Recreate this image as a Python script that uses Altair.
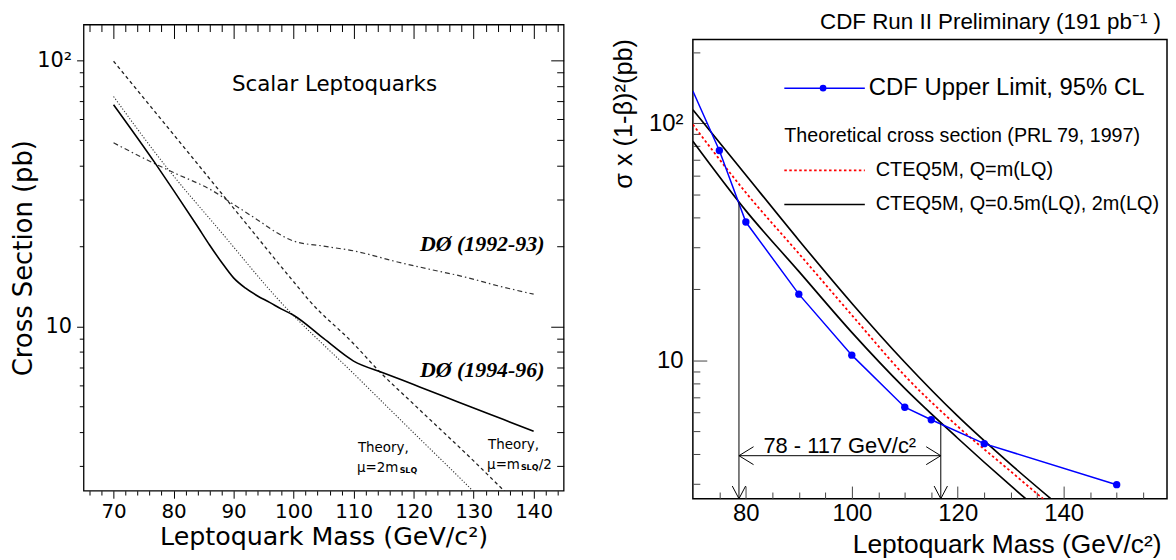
import altair as alt
import pandas as pd

# ---------------- Left panel: D0 scalar leptoquark cross sections ----------------
L_do9396_mass = [70, 76.9, 80, 84, 86, 88, 90, 92, 94, 96, 98, 100, 105, 110, 115, 120, 125, 130, 135, 140]
L_do9396_xs = [68, 41.1, 32.4, 23.7, 20.2, 17.4, 15.2, 13.9, 13.0, 12.3, 11.6, 11.0, 9.0, 7.4, 6.68, 6.04, 5.46, 4.93, 4.46, 4.03]

L_do9293_mass = [70, 76.6, 80, 86.6, 90, 94, 97.6, 100, 105, 110, 117.5, 122, 128.6, 134, 140]
L_do9293_xs = [48.9, 41.1, 37.8, 32.2, 28.7, 25.1, 22.2, 20.9, 20.0, 19.2, 17.4, 16.5, 15.3, 14.2, 13.2]

L_half_mass = [70, 80, 90, 100, 102.6, 110, 114.2, 120, 130, 135, 137]
L_half_xs = [99, 52.5, 27.8, 14.7, 12.5, 8.6, 6.8, 5.1, 3.12, 2.42, 2.19]

L_two_mass = [70, 78.9, 87.7, 97.6, 110, 120, 130, 132]
L_two_xs = [73, 39.4, 22.9, 12.5, 6.64, 3.98, 2.39, 2.15]

L_XMAJOR = [70, 80, 90, 100, 110, 120, 130, 140]
L_XMINOR = [66, 68, 72, 74, 76, 78, 82, 84, 86, 88, 92, 94, 96, 98, 102, 104, 106, 108,
            112, 114, 116, 118, 122, 124, 126, 128, 132, 134, 136, 138, 142, 144]
L_YMAJOR = [10, 100]
L_YMINOR = [3, 4, 5, 6, 7, 8, 9, 20, 30, 40, 50, 60, 70, 80, 90]

# ---------------- Right panel: CDF Run II ----------------
R_cdf_mass = [70, 75, 80, 90, 100, 110, 115, 125, 150]
R_cdf_limit = [137, 76.8, 38.3, 19.0, 10.5, 6.33, 5.6, 4.44, 2.98]

R_th_mass = [70, 80, 90, 100, 110, 120, 130, 140]
R_th_central = [98.8, 51, 28.2, 15.5, 8.6, 5.25, 3.39, 2.19]
R_th_high = [114.2, 60.5, 32.1, 17.4, 9.8, 5.8, 3.63, 2.34]
R_th_low = [84, 42.8, 23.7, 13.1, 7.6, 4.68, 2.95, 1.9]

R_excl = [78.7, 116.8]          # excluded mass range ends
R_excl_top = [46.5, 5.47]       # where the vertical arrows start
R_arrow_y = 3.95                # height of horizontal arrow

R_XMAJOR = [80, 100, 120, 140]
R_XMINOR = [75, 85, 90, 95, 105, 110, 115, 125, 130, 135, 145, 150, 155]
R_YMAJOR = [10, 100]
R_YMINOR = [3, 4, 5, 6, 7, 8, 9, 20, 30, 40, 50, 60, 70, 80, 90, 200]

LW, LH = 483, 469
RW, RH = 477, 462
L_XDOM, L_YDOM = [65, 145], [2.41, 136]
R_XDOM, R_YDOM = [70, 159.5], [2.6, 226]

LFONT = "DejaVu Sans"
RFONT = "Liberation Sans"

lx = alt.Scale(domain=L_XDOM, nice=False, zero=False)
ly = alt.Scale(type="log", domain=L_YDOM, nice=False)
rx = alt.Scale(domain=R_XDOM, nice=False, zero=False)
ry = alt.Scale(type="log", domain=R_YDOM, nice=False)


def holder(xs, ys, xax, yax, xv, yv):
    d = pd.DataFrame({"x": [xv], "y": [yv]})
    return alt.Chart(d).mark_point(opacity=0).encode(
        x=alt.X("x:Q", scale=xs, axis=xax),
        y=alt.Y("y:Q", scale=ys, axis=yax),
    )


def ticks_only(orient, values, size, offset=0, color="black"):
    return alt.Axis(orient=orient, values=values, tickSize=size, offset=offset, labels=False,
                    domain=False, grid=False, title=None, tickColor=color, tickWidth=1)


def curve(xs, ys, mass, vals, **kw):
    d = pd.DataFrame({"m": mass, "v": vals})
    return alt.Chart(d).mark_line(clip=True, **kw).encode(
        x=alt.X("m:Q", scale=xs, axis=None),
        y=alt.Y("v:Q", scale=ys, axis=None),
    )


def label(text, x, y, **kw):
    d = pd.DataFrame({"t": [text]})
    return alt.Chart(d).mark_text(**kw).encode(
        x=alt.value(x), y=alt.value(y), text="t:N")


# ---------- left panel ----------
l_ax1 = holder(lx, ly,
               alt.Axis(orient="bottom", values=L_XMAJOR, tickSize=7.5, tickColor="black", domain=False,
                        grid=False, format="d", labelFont=LFONT, labelFontSize=20, labelPadding=3,
                        labelColor="black", title="Leptoquark Mass (GeV/c²)", titleFont=LFONT,
                        titleFontSize=25.5, titleFontWeight="normal", titleColor="black",
                        titleX=LW / 2, titleY=46, titleAlign="center", titleBaseline="middle"),
               alt.Axis(orient="left", values=L_YMAJOR, tickSize=7, tickColor="black", domain=False,
                        grid=False, labelExpr="datum.value >= 100 ? '10²' : '10'", labelFont=LFONT,
                        labelFontSize=21, labelPadding=5, labelColor="black",
                        title="Cross Section (pb)", titleFont=LFONT, titleFontSize=26,
                        titleFontWeight="normal", titleColor="black", titleX=-60, titleY=LH / 2,
                        titleAngle=270, titleAlign="center", titleBaseline="middle"),
               100, 10)
l_ax2 = holder(lx, ly, ticks_only("bottom", L_XMINOR, 4.3), ticks_only("left", L_YMINOR, 4.3), 100, 10)
l_ax3 = holder(lx, ly, ticks_only("top", L_XMAJOR, 14, -14), ticks_only("right", L_YMAJOR, 13, -13), 100, 10)
l_ax4 = holder(lx, ly, ticks_only("top", L_XMINOR, 7, -7), ticks_only("right", L_YMINOR, 7, -7), 100, 10)

l_solid = curve(lx, ly, L_do9396_mass, L_do9396_xs, color="black", strokeWidth=1.6, interpolate="monotone")
l_dashdot = curve(lx, ly, L_do9293_mass, L_do9293_xs, color="#333333", strokeWidth=1.2,
                  strokeDash=[5, 3, 1.5, 3], interpolate="monotone")
l_dashed = curve(lx, ly, L_half_mass, L_half_xs, color="#222222", strokeWidth=1.3,
                 strokeDash=[3.5, 3], interpolate="monotone")
l_dotted = curve(lx, ly, L_two_mass, L_two_xs, color="#333333", strokeWidth=1.1,
                 strokeDash=[1.2, 1.8], interpolate="monotone")

serif_bi = dict(font="Liberation Serif", fontStyle="italic", fontWeight="bold", fontSize=22,
                align="right", baseline="middle", color="black")
small = dict(font=LFONT, fontSize=13.5, align="left", baseline="middle", color="black")
sub = dict(font=LFONT, fontSize=8, fontWeight="bold", align="left", baseline="middle", color="black")
l_texts = [
    label("Scalar Leptoquarks", 252.5, 61, font=LFONT, fontSize=21.5, align="center", baseline="middle",
          color="black"),
    label("DØ (1992-93)", 463.7, 221, **serif_bi),
    label("DØ (1994-96)", 463.7, 347.7, **serif_bi),
    label("Theory,", 276, 426, **small),
    label("μ=2m", 275, 446, **small),
    label("SLQ", 318, 449, **sub),
    label("Theory,", 407, 422.7, **small),
    label("μ=m", 406, 442.7, **small),
    label("SLQ", 440, 445.7, **sub),
    label("/2", 458, 442.7, **small),
]

left = alt.layer(l_ax1, l_ax2, l_ax3, l_ax4, l_dashdot, l_dashed, l_dotted, l_solid, *l_texts).resolve_axis(
    x="independent", y="independent").properties(
    width=LW, height=LH, view=alt.ViewBackground(stroke="black", strokeWidth=1.3))

# ---------- right panel ----------
r_ax1 = holder(rx, ry,
               alt.Axis(orient="bottom", values=R_XMAJOR, tickSize=12.7, offset=-12.7, tickColor="#444444",
                        domain=False, grid=False, format="d", labelFont=RFONT, labelFontSize=24,
                        labelPadding=3, labelColor="black", title="Leptoquark Mass (GeV/c²)",
                        titleFont=RFONT, titleFontSize=26.5, titleFontWeight="normal", titleColor="black",
                        titleX=471, titleY=58.4, titleAlign="right", titleBaseline="middle"),
               alt.Axis(orient="left", values=R_YMAJOR, tickSize=14, offset=-14, tickColor="#444444",
                        domain=False, grid=False, labelExpr="datum.value >= 100 ? '10²' : '10'",
                        labelFont=RFONT, labelFontSize=24, labelPadding=10, labelColor="black",
                        title="σ x (1-β)²(pb)", titleFont=RFONT, titleFontSize=25.5,
                        titleFontWeight="normal", titleColor="black", titleX=-84, titleY=-1,
                        titleAngle=270, titleAlign="right", titleBaseline="middle"),
               100, 10)
r_ax2 = holder(rx, ry, ticks_only("bottom", R_XMINOR, 6.7, -6.7, "#444444"),
               ticks_only("left", R_YMINOR, 7, -7, "#444444"), 100, 10)

r_high = curve(rx, ry, R_th_mass, R_th_high, color="black", strokeWidth=1.7, interpolate="monotone")
r_low = curve(rx, ry, R_th_mass, R_th_low, color="black", strokeWidth=1.7, interpolate="monotone")
r_central = curve(rx, ry, R_th_mass, R_th_central, color="#ff0000", strokeWidth=1.8, strokeDash=[2.5, 2.5],
                  interpolate="monotone")
r_cdf_line = curve(rx, ry, R_cdf_mass, R_cdf_limit, color="#0000ff", strokeWidth=1.5)
cdf_pts = pd.DataFrame({"m": R_cdf_mass[1:], "v": R_cdf_limit[1:]})
r_cdf_pts = alt.Chart(cdf_pts).mark_point(filled=True, size=55, color="#0000ff", opacity=1).encode(
    x=alt.X("m:Q", scale=rx, axis=None), y=alt.Y("v:Q", scale=ry, axis=None))

# exclusion arrows
vert = pd.DataFrame({"m": R_excl, "top": R_excl_top, "bot": [R_YDOM[0], R_YDOM[0]]})
r_vert = alt.Chart(vert).mark_rule(color="black", strokeWidth=1).encode(
    x=alt.X("m:Q", scale=rx, axis=None), y=alt.Y("top:Q", scale=ry, axis=None), y2="bot:Q")
horiz = pd.DataFrame({"a": [R_excl[0]], "b": [R_excl[1]], "y": [R_arrow_y]})
r_horiz = alt.Chart(horiz).mark_rule(color="black", strokeWidth=1).encode(
    x=alt.X("a:Q", scale=rx, axis=None), x2="b:Q", y=alt.Y("y:Q", scale=ry, axis=None))
head_l = alt.Chart(pd.DataFrame({"m": [R_excl[0]], "v": [R_arrow_y]})).mark_point(
    shape="M1.63,-1L0,0L1.63,1", size=324, color="black", strokeWidth=1, opacity=1).encode(
    x=alt.X("m:Q", scale=rx, axis=None), y=alt.Y("v:Q", scale=ry, axis=None))
head_r = alt.Chart(pd.DataFrame({"m": [R_excl[1]], "v": [R_arrow_y]})).mark_point(
    shape="M-1.63,-1L0,0L-1.63,1", size=324, color="black", strokeWidth=1, opacity=1).encode(
    x=alt.X("m:Q", scale=rx, axis=None), y=alt.Y("v:Q", scale=ry, axis=None))
head_d = alt.Chart(pd.DataFrame({"m": R_excl, "v": [R_YDOM[0], R_YDOM[0]]})).mark_point(
    shape="M-1,-1.9L0,0L1,-1.9", size=180, color="black", strokeWidth=1, opacity=1).encode(
    x=alt.X("m:Q", scale=rx, axis=None), y=alt.Y("v:Q", scale=ry, axis=None))

# legend drawn inside the frame
one = pd.DataFrame({"k": [0]})
leg_blue = alt.Chart(one).mark_rule(color="#0000ff", strokeWidth=1.5).encode(
    x=alt.value(92), x2=alt.value(173), y=alt.value(49))
leg_blue_pt = alt.Chart(one).mark_point(filled=True, size=45, color="#0000ff", opacity=1).encode(
    x=alt.value(131), y=alt.value(49))
leg_red = alt.Chart(one).mark_rule(color="#ff0000", strokeWidth=1.8, strokeDash=[2.5, 2.5]).encode(
    x=alt.value(92), x2=alt.value(173), y=alt.value(131.7))
leg_black = alt.Chart(one).mark_rule(color="black", strokeWidth=1.5).encode(
    x=alt.value(92), x2=alt.value(173), y=alt.value(166))

rt = dict(font=RFONT, align="left", baseline="middle", color="black")
r_texts = [
    label("CDF Upper Limit, 95% CL", 177, 49, fontSize=24, **rt),
    label("Theoretical cross section (PRL 79, 1997)", 92, 97, fontSize=19.8, **rt),
    label("CTEQ5M, Q=m(LQ)", 184, 131.7, fontSize=20, **rt),
    label("CTEQ5M, Q=0.5m(LQ), 2m(LQ)", 184, 166, fontSize=20, **rt),
    label("78 - 117 GeV/c²", 71, 409, fontSize=22, **rt),
]

right = alt.layer(r_ax1, r_ax2, r_low, r_central, r_high, r_cdf_line, r_cdf_pts, r_vert, r_horiz,
                  head_l, head_r, head_d, leg_blue, leg_blue_pt, leg_red, leg_black, *r_texts).resolve_axis(
    x="independent", y="independent").properties(
    width=RW, height=RH,
    title=alt.TitleParams("CDF Run II Preliminary (191 pb⁻¹ )", anchor="end", font=RFONT, fontSize=22.5,
                          fontWeight="normal", color="black", offset=5, dx=-6),
    view=alt.ViewBackground(stroke="black", strokeWidth=1.5))

spacer = alt.Chart(one).mark_point(opacity=0).encode(
    x=alt.value(0), y=alt.value(0)).properties(
    width=RW, height=15, view=alt.ViewBackground(strokeOpacity=0))

right_col = alt.vconcat(spacer, right, spacing=0, bounds="flush")

chart = alt.hconcat(left, right_col, spacing=130, bounds="flush").properties(
    padding={"left": 2, "top": 0, "right": 0, "bottom": 0},
    background="white")

chart.save("out.html", embed_options={"renderer": "svg", "actions": False})
